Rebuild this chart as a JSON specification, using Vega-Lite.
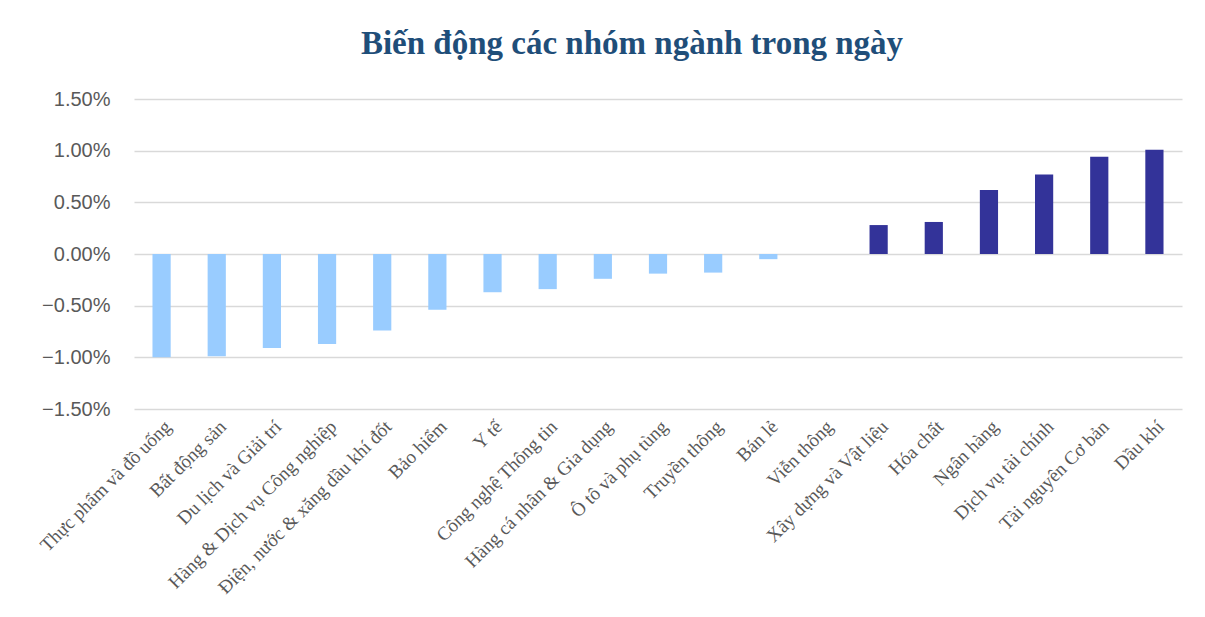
{
  "$schema": "https://vega.github.io/schema/vega-lite/v6.json",
  "autosize": {"type": "none"},
  "width": 1048,
  "height": 310,
  "padding": {"left": 134, "top": 99, "right": 23, "bottom": 208},
  "background": "white",
  "title": {
    "text": "Biến động các nhóm ngành trong ngày",
    "font": "Liberation Serif",
    "fontSize": 33,
    "fontWeight": "bold",
    "color": "#1F4E79",
    "anchor": "middle",
    "dx": -26,
    "offset": 28
  },
  "config": {
    "view": {"stroke": null},
    "axis": {"ticks": false, "domain": false}
  },
  "data": {
    "values": [
      {"nganh": "Thực phẩm và đồ uống", "value": -0.0100},
      {"nganh": "Bất động sản", "value": -0.0099},
      {"nganh": "Du lịch và Giải trí", "value": -0.0091},
      {"nganh": "Hàng & Dịch vụ Công nghiệp", "value": -0.0087},
      {"nganh": "Điện, nước & xăng dầu khí đốt", "value": -0.0074},
      {"nganh": "Bảo hiểm", "value": -0.0054},
      {"nganh": "Y tế", "value": -0.0037},
      {"nganh": "Công nghệ Thông tin", "value": -0.0034},
      {"nganh": "Hàng cá nhân & Gia dụng", "value": -0.0024},
      {"nganh": "Ô tô và phụ tùng", "value": -0.0019},
      {"nganh": "Truyền thông", "value": -0.0018},
      {"nganh": "Bán lẻ", "value": -0.0005},
      {"nganh": "Viễn thông", "value": 0.0},
      {"nganh": "Xây dựng và Vật liệu", "value": 0.0028},
      {"nganh": "Hóa chất", "value": 0.0031},
      {"nganh": "Ngân hàng", "value": 0.0062},
      {"nganh": "Dịch vụ tài chính", "value": 0.0077},
      {"nganh": "Tài nguyên Cơ bản", "value": 0.0094},
      {"nganh": "Dầu khí", "value": 0.0101}
    ]
  },
  "mark": {"type": "bar"},
  "encoding": {
    "x": {
      "field": "nganh",
      "type": "nominal",
      "sort": null,
      "scale": {"paddingInner": 0.67, "paddingOuter": 0.335},
      "axis": {
        "title": null,
        "labelAngle": -45,
        "labelFont": "Liberation Serif",
        "labelFontSize": 19,
        "labelColor": "#595959",
        "labelPadding": 8,
        "labelLimit": 400,
        "grid": false
      }
    },
    "y": {
      "field": "value",
      "type": "quantitative",
      "scale": {"domain": [-0.015, 0.015], "nice": false},
      "axis": {
        "title": null,
        "format": ".2%",
        "values": [-0.015, -0.01, -0.005, 0, 0.005, 0.01, 0.015],
        "labelFont": "Liberation Sans",
        "labelFontSize": 20,
        "labelColor": "#595959",
        "labelPadding": 24,
        "grid": true,
        "gridColor": "#D9D9D9",
        "gridWidth": 1.5
      }
    },
    "color": {
      "condition": {"test": "datum.value > 0", "value": "#333399"},
      "value": "#99CCFF"
    }
  }
}
